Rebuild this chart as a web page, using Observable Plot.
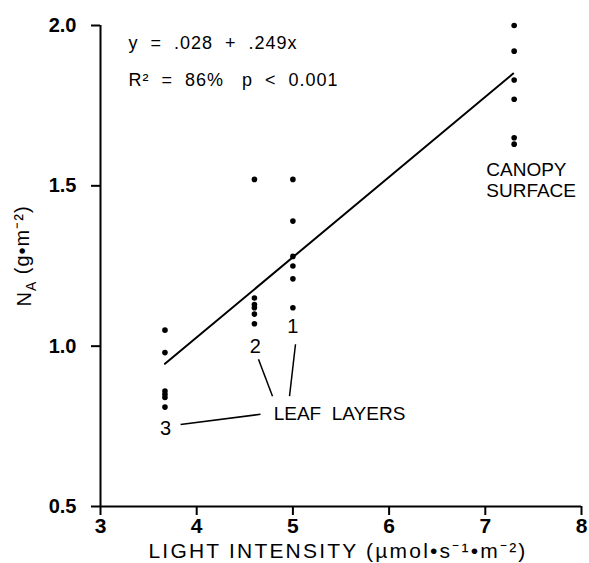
<!DOCTYPE html>
<html><head><meta charset="utf-8">
<script src="https://cdn.jsdelivr.net/npm/d3@7"></script>
<script src="https://cdn.jsdelivr.net/npm/@observablehq/plot@0.6"></script>
<style>
body{margin:0;background:#fff;}
svg text{white-space:pre;}
</style></head><body><div id="chart"></div>
<script>
// Light intensity of each group (leaf layer 3, 2, 1, canopy surface)
const layerX = [3.67, 4.6, 5.0, 7.3];
const layer3Y = [1.05, 0.98, 0.86, 0.85, 0.84, 0.81];
const layer2Y = [1.52, 1.15, 1.13, 1.12, 1.10, 1.07];
const layer1Y = [1.52, 1.39, 1.28, 1.25, 1.21, 1.12];
const canopyY = [2.00, 1.92, 1.83, 1.77, 1.65, 1.63];
// regression line end points
const fitX = [3.67, 7.29];
const fitY = [0.945, 1.85];
// ticks
const xTicks = [3, 4, 5, 6, 7, 8];
const yTicks = [0.5, 1.0, 1.5, 2.0];
// texts
const eqLines = ["y  =  .028  +  .249x", "R²  =  86%   p  <  0.001"];
const layerNames = ["1", "2", "3"];
const xTitle = "LIGHT INTENSITY (µmol•s⁻¹•m⁻²)";
const yTitle = "NA (g•m⁻²)";

const points = [layer3Y, layer2Y, layer1Y, canopyY]
  .flatMap((ys, i) => ys.map(y => ({x: layerX[i], y})));
const fit = fitX.map((x, i) => ({x, y: fitY[i]}));

const numLabels = [
  {x: 5.0, y: 1.0625, text: layerNames[0]},
  {x: 4.61, y: 1.0, text: layerNames[1]},
  {x: 3.676, y: 0.744, text: layerNames[2]}
];
const leaders = [
  {x1: 4.642, y1: 0.959, x2: 4.788, y2: 0.844},
  {x1: 5.027, y1: 1.006, x2: 4.965, y2: 0.844},
  {x1: 3.832, y1: 0.756, x2: 4.663, y2: 0.7875}
];
const notes = [
  {x: 4.80, y: 0.79, text: "LEAF  LAYERS"},
  {x: 7.01, y: 1.52, text: "CANOPY\nSURFACE"}
];
const eq = [
  {x: 3.29, y: 1.944, text: eqLines[0]},
  {x: 3.29, y: 1.828, text: eqLines[1]}
];

const chart = Plot.plot({
  width: 589,
  height: 563,
  marginLeft: 100,
  marginRight: 8,
  marginTop: 25,
  marginBottom: 57,
  x: {domain: [3, 8]},
  y: {domain: [0.5, 2.0]},
  style: {fontFamily: "Liberation Sans, Arial, sans-serif", color: "black", background: "white"},
  marks: [
    Plot.ruleX([3], {strokeWidth: 2}),
    Plot.ruleY([0.5], {strokeWidth: 2}),
    Plot.axisX({ticks: xTicks, tickSize: 9, tickPadding: 3, fontSize: 21, fontWeight: "bold",
      strokeWidth: 2, label: null, tickFormat: d => String(d)}),
    Plot.axisY({ticks: yTicks, tickSize: 9, tickPadding: 15, fontSize: 20, fontWeight: "bold",
      strokeWidth: 2, label: null, tickFormat: d => d.toFixed(1)}),
    Plot.line(fit, {x: "x", y: "y", strokeWidth: 2}),
    Plot.dot(points, {x: "x", y: "y", r: 2.8, fill: "black"}),
    Plot.link(leaders, {x1: "x1", y1: "y1", x2: "x2", y2: "y2", strokeWidth: 1.5}),
    Plot.text(numLabels, {x: "x", y: "y", text: "text", fontSize: 20}),
    Plot.text(notes, {x: "x", y: "y", text: "text", textAnchor: "start", fontSize: 19, lineHeight: 1.1}),
    Plot.text(eq, {x: "x", y: "y", text: "text", textAnchor: "start", fontSize: 18}),
    Plot.text([xTitle], {text: d => d, frameAnchor: "bottom", textAnchor: "middle", lineAnchor: "middle",
      dy: 45, dx: -3, fontSize: 21}),
    Plot.text([yTitle], {text: d => d, frameAnchor: "left", textAnchor: "middle", lineAnchor: "middle",
      rotate: -90, dx: -76, dy: -10, fontSize: 20})
  ]
});
document.getElementById("chart").appendChild(chart);

// styling tweaks: subscript A, letter spacing
d3.select(chart).selectAll("text").each(function() {
  const t = this.textContent;
  if (t === yTitle) {
    const el = d3.select(this);
    el.text(null);
    el.append("tspan").text("N");
    el.append("tspan").attr("font-size", "14px").attr("dy", "0.35em").text("A");
    el.append("tspan").attr("dy", "-0.35em").text(" (g•m⁻²)");
    el.style("letter-spacing", "1px");
  } else if (t === xTitle) {
    d3.select(this).style("letter-spacing", "2.2px");
  } else if (eqLines.includes(t)) {
    d3.select(this).style("letter-spacing", "1px");
  }
});
</script></body></html>
